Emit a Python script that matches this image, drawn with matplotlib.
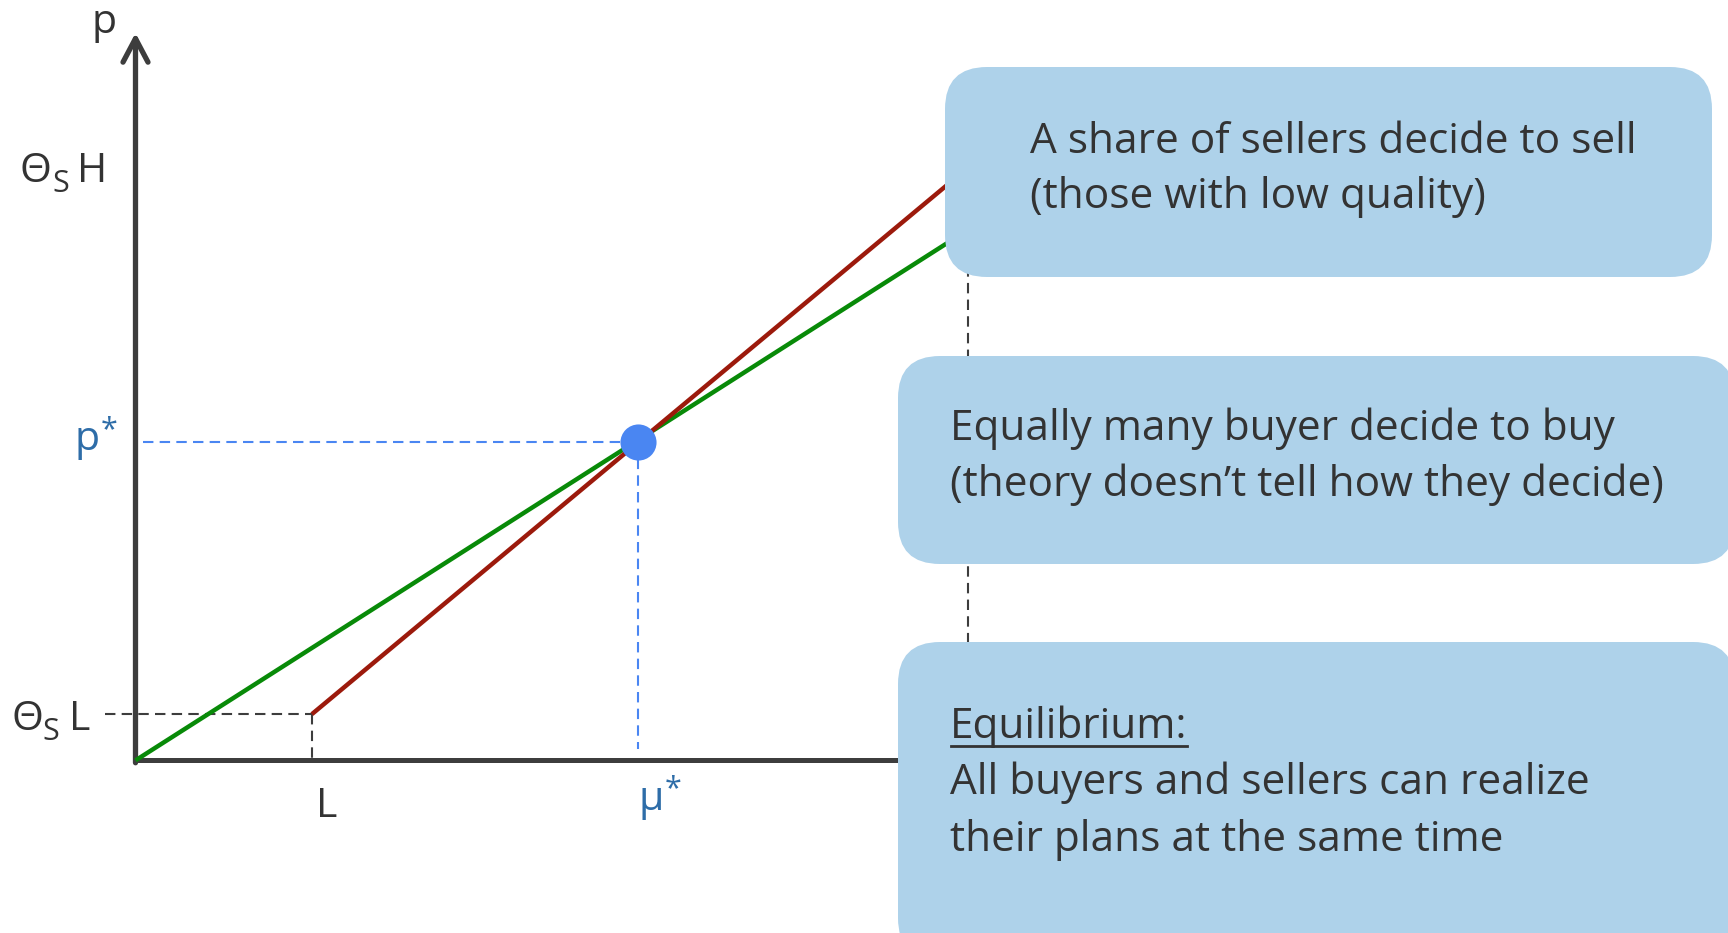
import matplotlib
matplotlib.use('Agg')
from matplotlib import pyplot as plt
from matplotlib.patches import FancyBboxPatch

# values (quality on x, price on y, arbitrary units)
L = 1.0
mu_star = 2.85
H = 4.72
theta_L = 0.078
p_star = 0.537
theta_H = 1.0

demand_x = [0.0, H]
demand_y = [0.0, 0.895]
supply_x = [L, H]
supply_y = [theta_L, theta_H]

box_texts = [
    ["A share of sellers decide to sell", "(those with low quality)"],
    ["Equally many buyer decide to buy", "(theory doesn\u2019t tell how they decide)"],
    ["Equilibrium:", "All buyers and sellers can realize", "their plans at the same time"],
]

# layout (pixels of the 1728x933 canvas)
W, Hpx = 1728, 933
ORIGIN = (135.5, 760.4)
XS, YS = 176.4, 592.9
Y_TOP = 1.227
X_END = 4.5
BOXES = [(945, 67, 1712, 277), (898, 356, 1735, 564), (898, 642, 1735, 960)]
TEXT_POS = [(1030, 153, 55.5), (950, 440, 56), (950, 738, 56.5)]

AXIS_C = '#3d3d3d'
TEXT_C = '#333333'
BLUE = '#4a86f2'
BLUE_TXT = '#2e6da8'
GREEN = '#088a08'
RED = '#9c1a0c'
BOX_C = '#aed2ea'

plt.rcParams['font.family'] = ['Open Sans', 'DejaVu Sans']


def label(ax, xy, pieces, color):
    # pieces: (text, dx, dy, size) in pixels from the anchor, left/baseline aligned
    for s, dx, dy, size in pieces:
        ax.annotate(s, xy=xy, xytext=(dx, dy), textcoords='offset pixels',
                    fontsize=size, color=color, ha='left', va='baseline')


def main():
    fig = plt.figure(figsize=(W / 100, Hpx / 100), dpi=100)
    ax = fig.add_axes([0, 0, 1, 1])
    ax.set_xlim(-ORIGIN[0] / XS, (W - ORIGIN[0]) / XS)
    ax.set_ylim(-(Hpx - ORIGIN[1]) / YS, ORIGIN[1] / YS)
    ax.axis('off')

    # axes with arrow on p
    ax.plot([0, X_END], [0, 0], color=AXIS_C, lw=3.6, solid_capstyle='butt', zorder=3)
    ax.annotate('', xy=(0, Y_TOP), xytext=(0, -0.004),
                arrowprops=dict(arrowstyle='->,head_length=0.85,head_width=0.45',
                                lw=3.8, color=AXIS_C, mutation_scale=20,
                                shrinkA=0, shrinkB=0), zorder=3)

    # guide lines
    dash = (0, (5, 3))
    ax.plot([-0.175, L], [theta_L, theta_L], color=AXIS_C, lw=1.5, ls=dash)
    ax.plot([L, L], [theta_L, 0], color=AXIS_C, lw=1.5, ls=dash)
    ax.plot([H, H], [0, theta_H], color=AXIS_C, lw=1.5, ls=dash)
    ax.plot([0.04, mu_star], [p_star, p_star], color=BLUE, lw=1.5, ls=dash)
    ax.plot([mu_star, mu_star], [p_star, 0.02], color=BLUE, lw=1.5, ls=dash)

    ax.plot(demand_x, demand_y, color=GREEN, lw=3.2, solid_capstyle='butt', zorder=4)
    ax.plot(supply_x, supply_y, color=RED, lw=3.2, solid_capstyle='butt', zorder=4)
    ax.plot([mu_star], [p_star], 'o', ms=26, color=BLUE, mec='none', zorder=5)

    # axis labels
    label(ax, (0, Y_TOP), [('p', -44, 0, 29.5)], TEXT_C)
    label(ax, (0, theta_H), [('\u0398', -115.5, -14.5, 29.5), ('S', -83.5, -24.5, 22),
                             ('H', -58.5, -14.5, 29.5)], TEXT_C)
    label(ax, (0, theta_L), [('\u0398', -124.5, -15.5, 29.5), ('S', -93.5, -25.5, 22),
                             ('L', -66.5, -15.5, 29.5)], TEXT_C)
    label(ax, (L, 0), [('L', 4, -56.6, 29.5)], TEXT_C)
    label(ax, (0, p_star), [('p', -61, -8, 29.5), ('*', -34.5, 4, 22)], BLUE_TXT)
    label(ax, (mu_star, 0), [('\u00b5', 0, -50, 29.5), ('*', 26.6, -36.6, 22)], BLUE_TXT)

    # text boxes on top
    ov = fig.add_axes([0, 0, 1, 1])
    ov.set_zorder(2)
    ov.set_xlim(0, W)
    ov.set_ylim(Hpx, 0)
    ov.axis('off')
    head = None
    for (x0, y0, x1, y1), lines, (tx, ty, dy) in zip(BOXES, box_texts, TEXT_POS):
        ov.add_patch(FancyBboxPatch((x0, y0), x1 - x0, y1 - y0,
                                    boxstyle='round,pad=0,rounding_size=42',
                                    fc=BOX_C, ec='none'))
        for i, s in enumerate(lines):
            t = ov.text(tx, ty + i * dy, s, fontsize=30.5, color=TEXT_C,
                        ha='left', va='baseline')
            if s.endswith(':'):
                head = t

    # underline "Equilibrium:"
    fig.canvas.draw()
    bb = head.get_window_extent()
    uy = TEXT_POS[2][1] + 8
    ov.plot([bb.x0 + 1, bb.x1 - 1], [uy, uy], color=TEXT_C, lw=2)

    fig.savefig('out.png', dpi=100)


if __name__ == '__main__':
    main()
